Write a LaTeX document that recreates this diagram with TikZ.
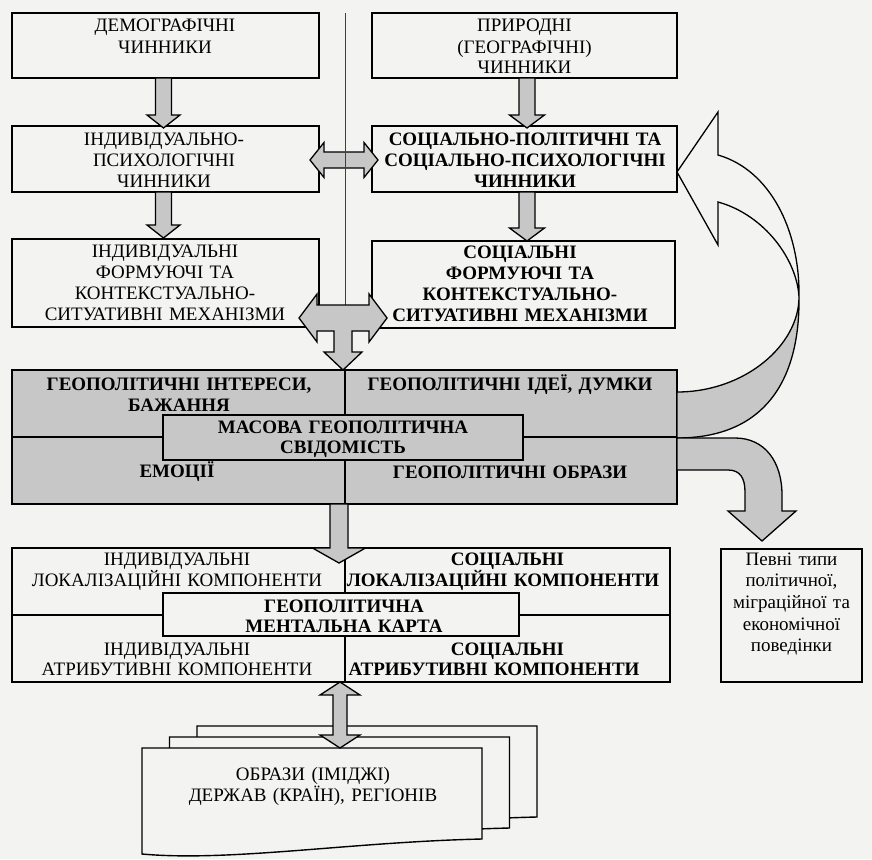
\documentclass[tikz,border=0pt]{standalone}
\usepackage{fontspec}
\setmainfont{Liberation Serif}
\usetikzlibrary{calc}
\definecolor{paper}{RGB}{243,243,241}
\definecolor{shade}{RGB}{199,199,199}
% down block arrow: #1 shaft start, #2 tip, #3 shaft half width, #4 head half width, #5 head length
\newcommand\gdown[5]{%
  \filldraw[garrow] let \p1=(#1), \p2=(#2) in
    (\x2-#3,\y1) -- (\x2-#3,\y2+#5) -- (\x2-#4,\y2+#5) -- (\x2,\y2) --
    (\x2+#4,\y2+#5) -- (\x2+#3,\y2+#5) -- (\x2+#3,\y1) -- cycle;}
% vertical double block arrow: #1 top tip, #2 bottom tip
\newcommand\gvdouble[5]{%
  \filldraw[garrow] let \p1=(#1), \p2=(#2) in
    (\x1,\y1) -- (\x1+#4,\y1-#5) -- (\x1+#3,\y1-#5) -- (\x1+#3,\y2+#5) --
    (\x1+#4,\y2+#5) -- (\x1,\y2) -- (\x1-#4,\y2+#5) -- (\x1-#3,\y2+#5) --
    (\x1-#3,\y1-#5) -- (\x1-#4,\y1-#5) -- cycle;}
% horizontal double block arrow: #1 left tip, #2 right tip
\newcommand\ghdouble[5]{%
  \filldraw[garrow] let \p1=(#1), \p2=(#2) in
    (\x1,\y1) -- (\x1+#5,\y1+#4) -- (\x1+#5,\y1+#3) -- (\x2-#5,\y1+#3) --
    (\x2-#5,\y1+#4) -- (\x2,\y1) -- (\x2-#5,\y1-#4) -- (\x2-#5,\y1-#3) --
    (\x1+#5,\y1-#3) -- (\x1+#5,\y1-#4) -- cycle;}
\begin{document}
\begin{tikzpicture}[x=1pt,y=-1pt,
  box/.style={draw,line width=1.4pt,fill=paper,inner sep=0pt,outer sep=0pt},
  greybox/.style={box,fill=shade},
  txt/.style={inner sep=0pt,outer sep=0pt,anchor=base,align=center,text width=340pt,
    font=\fontsize{19}{21}\selectfont},
  btxt/.style={txt,font=\fontsize{19}{21}\selectfont\bfseries},
  garrow/.style={draw,fill=shade,line width=1.3pt,line join=miter},
  divider/.style={line width=1.3pt},
  guide/.style={line width=0.9pt,black!75},
  docpage/.style={draw,line width=1.4pt,fill=paper}]

\fill[paper] (0,0) rectangle (872,859);
\useasboundingbox (0,0) rectangle (872,859);
\coordinate (vx) at (345,0);

% ---------- top boxes ----------
\node[box,minimum width=307pt,minimum height=65pt] (b1) at (165.5,45.5) {};
\node[box,minimum width=305pt,minimum height=65pt] (b2) at (524.5,45.5) {};
\node[box,minimum width=307pt,minimum height=66pt] (b3) at (165.5,159) {};
\node[box,minimum width=305pt,minimum height=66pt] (b4) at (524.5,159) {};
\node[box,minimum width=307pt,minimum height=88pt] (b5) at (165.5,283) {};
\node[box,minimum width=303pt,minimum height=87pt] (b6) at (523.5,284.5) {};

\node[txt] (t1) at (165,32) {ДЕМОГРАФІЧНІ\\ЧИННИКИ};
\node[txt] (t2) at (524.5,32) {ПРИРОДНІ\\(ГЕОГРАФІЧНІ)\\ЧИННИКИ};
\node[txt] (t3) at (164,145) {ІНДИВІДУАЛЬНО-\\ПСИХОЛОГІЧНІ\\ЧИННИКИ};
\node[btxt] (t4) at (525,145) {СОЦІАЛЬНО-ПОЛІТИЧНІ ТА\\СОЦІАЛЬНО-ПСИХОЛОГІЧНІ\\ЧИННИКИ};
\node[txt] (t5) at (165,257) {ІНДИВІДУАЛЬНІ\\ФОРМУЮЧІ ТА\\КОНТЕКСТУАЛЬНО-\\СИТУАТИВНІ МЕХАНІЗМИ};
\node[btxt] (t6) at (520,258) {СОЦІАЛЬНІ\\ФОРМУЮЧІ ТА\\КОНТЕКСТУАЛЬНО-\\СИТУАТИВНІ МЕХАНІЗМИ};

% arrows between top boxes
\gdown{$(b1.south)+(-2,0)$}{$(b3.north)+(-2,2)$}{8pt}{16.5pt}{13pt}
\gdown{$(b3.south)+(-2,0)$}{$(b5.north)+(-2,-1)$}{8pt}{16.5pt}{13pt}
\gdown{$(b2.south)+(2.5,0)$}{$(b4.north)+(2.5,2)$}{8pt}{17.5pt}{13pt}
\gdown{$(b4.south)+(2.5,0)$}{$(b6.north)+(3.5,0)$}{8pt}{17.5pt}{13pt}
\ghdouble{$(b3.east)+(-9,1)$}{$(b4.west)+(6,1)$}{8pt}{17.5pt}{14pt}

% thin middle line
\coordinate (vtop) at (345,13);
\coordinate (vbot) at (345,305);
\draw[guide] (vtop) -- (vbot);

% ---------- grey block ----------
\node[greybox,minimum width=665pt,minimum height=134pt] (gb) at (344.5,437) {};
\draw[divider] (gb.west) -- (gb.east);
\draw[divider] (gb.north -| vx) -- (gb.south -| vx);
\node[greybox,minimum width=360pt,minimum height=45pt] (gc) at (343,437.5) {};

\node[btxt] (g1) at (179,390) {ГЕОПОЛІТИЧНІ ІНТЕРЕСИ,\\БАЖАННЯ};
\node[btxt] (g2) at (510,390) {ГЕОПОЛІТИЧНІ ІДЕЇ, ДУМКИ};
\node[btxt,font=\fontsize{19}{20}\selectfont\bfseries] (g3) at (343,433) {МАСОВА ГЕОПОЛІТИЧНА\\СВІДОМІСТЬ};
\node[btxt] (g4) at (177,477) {ЕМОЦІЇ};
\node[btxt] (g5) at (510,478) {ГЕОПОЛІТИЧНІ ОБРАЗИ};

% cross arrow into the grey block
\filldraw[garrow] (299,318) -- (317,294) -- (317,305) -- (369,305) -- (369,294)
  -- (387,318) -- (369,342) -- (369,331) -- (352,331) -- (352,352) -- (362,352)
  -- (343,370) -- (324,352) -- (334,352) -- (334,331) -- (317,331) -- (317,342) -- cycle;

% curved feedback arrow (grey lower part, white upper part)
\filldraw[garrow] (677,392) .. controls (745,392) and (799,345) .. (799,297)
  .. controls (800,380) and (765,438) .. (677,438) -- cycle;
\filldraw[garrow,fill=paper] (718,202) -- (718,245) -- (677,172) -- (718,112) -- (718,155)
  .. controls (770,170) and (800,230) .. (799,297)
  .. controls (797,260) and (765,215) .. (718,202) -- cycle;

% down-right arrow to behaviour box
\filldraw[garrow] (677,438) -- (735,438) .. controls (765,438) and (782,462) .. (782,495)
  -- (782,511) -- (796,511) -- (762,541) -- (728,511) -- (745,511) -- (745,492)
  .. controls (745,478) and (740,470) .. (728,470) -- (677,470) -- cycle;

% ---------- bottom block ----------
\node[box,minimum width=658pt,minimum height=134pt] (bb) at (341,615) {};
\draw[divider] (bb.west) -- (bb.east);
\draw[divider] (bb.north -| vx) -- (bb.south -| vx);
\node[box,minimum width=356pt,minimum height=43pt] (bc) at (341,614.5) {};

\gdown{$(gb.south)+(-5.5,0)$}{$(bb.north)+(-2,15)$}{9pt}{26.5pt}{15pt}

\node[txt] (m1) at (177,565) {ІНДИВІДУАЛЬНІ\\ЛОКАЛІЗАЦІЙНІ КОМПОНЕНТИ};
\node[btxt] (m2) at (503,565) {\hspace*{9pt}СОЦІАЛЬНІ\\ЛОКАЛІЗАЦІЙНІ КОМПОНЕНТИ};
\node[btxt,font=\fontsize{19}{20}\selectfont\bfseries] (m3) at (344,612) {ГЕОПОЛІТИЧНА\\МЕНТАЛЬНА КАРТА};
\node[txt,font=\fontsize{19}{20}\selectfont] (m4) at (177,655) {ІНДИВІДУАЛЬНІ\\АТРИБУТИВНІ КОМПОНЕНТИ};
\node[btxt,font=\fontsize{19}{20}\selectfont\bfseries] (m5) at (494,655) {\hspace*{27pt}СОЦІАЛЬНІ\\АТРИБУТИВНІ КОМПОНЕНТИ};

% behaviour box
\node[box,minimum width=141pt,minimum height=133pt] (pv) at (791.5,615.5) {};
\node[txt,font=\fontsize{19}{21.7}\selectfont] (pvt) at (791.5,565) {Певні типи\\політичної,\\міграційної та\\економічної\\поведінки};

% ---------- stacked documents ----------
\begin{scope}[shift={(55,-22)}]
  \filldraw[docpage] (142,748) -- (482,748) -- (482,839) .. controls (350,842) and (230,862) .. (142,854) -- cycle;
\end{scope}
\begin{scope}[shift={(27.5,-11)}]
  \filldraw[docpage] (142,748) -- (482,748) -- (482,839) .. controls (350,842) and (230,862) .. (142,854) -- cycle;
\end{scope}
\filldraw[docpage] (142,748) -- (482,748) -- (482,839) .. controls (350,842) and (230,862) .. (142,854) -- cycle;
\coordinate (doctop) at (340,748);
\node[txt] (dt) at (313,780) {ОБРАЗИ (ІМІДЖІ)\\ДЕРЖАВ (КРАЇН), РЕГІОНІВ};

\gvdouble{$(bb.south)+(-1,0)$}{doctop}{7pt}{20pt}{13pt}
\end{tikzpicture}
\end{document}
